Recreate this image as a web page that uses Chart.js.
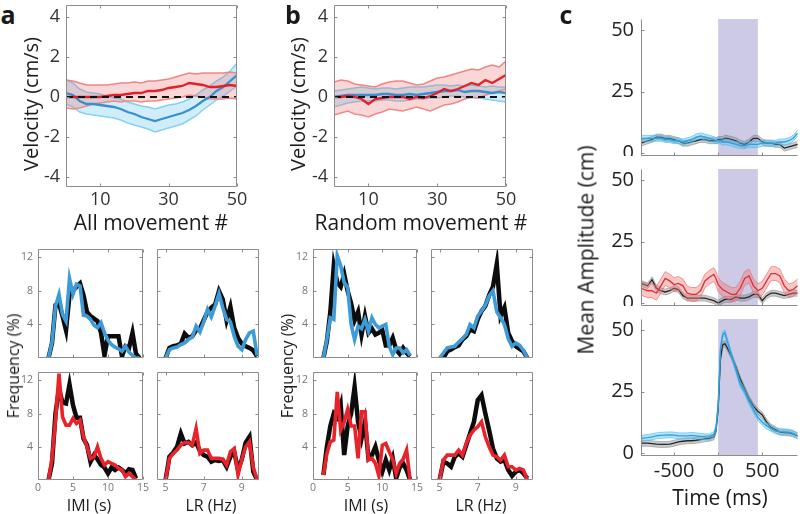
<!DOCTYPE html>
<html><head><meta charset="utf-8">
<script src="https://cdn.jsdelivr.net/npm/chart.js@4/dist/chart.umd.min.js"></script>
<style>
body{margin:0;background:#fff;width:800px;height:514px;position:relative;overflow:hidden;font-family:"Open Sans",sans-serif;}
canvas{position:absolute;}
.t{position:absolute;white-space:nowrap;color:#1a1a1a;line-height:1;}
</style></head><body>
<script>
// ---------------- DATA ----------------
// Panel a/b top: velocity vs movement #
const velX = [0,2,4,6,8,10,12,14,16,18,20,22,24,26,28,30,32,34,36,38,40,42,44,46,48,50];
const velTicksX = [10,30,50];
const velTicksY = [-4,-2,0,2,4];
const aRedMean = [0,0,0,0,0,0,0.05,0.1,0.1,0.15,0.2,0.2,0.3,0.3,0.35,0.45,0.5,0.55,0.7,0.65,0.6,0.5,0.5,0.55,0.6,0.55];
const aRedUp   = [0.85,0.8,0.7,0.6,0.6,0.6,0.6,0.65,0.7,0.7,0.75,0.7,0.8,0.8,0.85,0.9,1.0,1.1,1.2,1.15,1.2,1.2,1.2,1.2,1.25,1.2];
const aRedLo   = [-0.55,-0.6,-0.55,-0.45,-0.35,-0.3,-0.25,-0.2,-0.25,-0.2,-0.2,-0.25,-0.2,-0.2,-0.15,-0.1,-0.05,0,0.1,0.05,0,-0.1,-0.1,-0.1,-0.05,-0.1];
const aBlueMean= [0.2,0.1,-0.2,-0.35,-0.35,-0.4,-0.45,-0.5,-0.6,-0.75,-0.85,-1.0,-1.1,-1.2,-1.1,-1.0,-0.9,-0.8,-0.65,-0.45,-0.2,0,0.3,0.5,0.8,1.1];
const aBlueUp  = [0.85,0.7,0.4,0.25,0.2,0.15,0.05,-0.05,-0.1,-0.25,-0.35,-0.45,-0.5,-0.6,-0.5,-0.4,-0.35,-0.25,-0.1,0.1,0.35,0.55,0.8,1.0,1.3,1.7];
const aBlueLo  = [-0.35,-0.5,-0.75,-0.85,-0.9,-0.95,-1.0,-1.05,-1.15,-1.3,-1.4,-1.5,-1.6,-1.75,-1.65,-1.55,-1.45,-1.35,-1.15,-0.95,-0.65,-0.4,-0.15,0.05,0.3,0.55];
const bRedMean = [0,0,0.05,0,-0.1,-0.35,-0.1,-0.05,0,0,0,-0.1,0,-0.05,0.05,0.2,0.4,0.3,0.4,0.55,0.7,0.6,0.85,0.7,0.9,1.1];
const bRedUp   = [0.75,0.85,0.8,0.65,0.6,0.55,0.5,0.65,0.75,0.8,0.8,0.7,0.6,0.65,0.8,0.95,1.0,1.1,1.2,1.3,1.4,1.35,1.5,1.6,1.5,1.8];
const bRedLo   = [-0.9,-0.8,-0.7,-0.85,-0.9,-1.0,-0.85,-0.75,-0.6,-0.65,-0.7,-0.6,-0.5,-0.6,-0.7,-0.55,-0.4,-0.35,-0.25,-0.1,0,-0.05,0.1,0.2,0.3,0.4];
const bBlueMean= [0,0.05,0.1,0.1,0.1,0.1,0.1,0.15,0.15,0.1,0.1,0.15,0.1,0.15,0.2,0.25,0.3,0.3,0.35,0.25,0.3,0.3,0.25,0.2,0.25,0.2];
const bBlueUp  = [0.3,0.35,0.4,0.45,0.5,0.45,0.4,0.45,0.45,0.4,0.45,0.5,0.5,0.5,0.55,0.6,0.6,0.55,0.6,0.55,0.6,0.55,0.5,0.55,0.5,0.5];
const bBlueLo  = [-0.5,-0.4,-0.3,-0.25,-0.2,-0.2,-0.2,-0.15,-0.15,-0.2,-0.2,-0.15,-0.1,-0.1,-0.05,-0.05,0,0.05,0.05,0,-0.05,-0.05,-0.1,-0.15,-0.2,-0.25];

// Histograms (frequency %)
const imiX = [1.5,2,2.5,3,3.5,4,4.5,5,5.5,6,6.5,7,7.5,8,8.5,9,9.5,10,10.5,11,11.5,12,12.5,13,13.5,14,14.5];
const lrX  = [5,5.2,5.4,5.6,5.8,6,6.2,6.4,6.6,6.8,7,7.2,7.4,7.6,7.8,8,8.2,8.4,8.6,8.8,9,9.2,9.4,9.6,9.8];
const imiTicks = [0,5,10,15];
const lrTicks = [5,7,9];
const freqTicks = [4,8,12];
const aImiBlack1 = [0,1.8,6.3,6.5,5,3.3,7.5,8,8.5,8.9,7.5,5.5,5,4.7,4.4,3,0.3,2.6,2.6,2.6,2.6,0.2,1.4,1.2,3,0.5,0];
const aImiBlue1  = [0,1.9,6.2,7.6,5.2,4.4,9.5,7.6,8.8,8.6,5.1,5,4.6,3.9,3.6,4.2,3,2.1,1.6,1.3,1.1,0.8,1.4,0.7,0.3,0,0];
const aLrBlack1  = [0,1.2,1.4,1.5,1.7,2.9,2.4,2.6,3.3,3.5,4.5,5.5,6,6.4,8,7,4.5,6.1,3.6,2.4,1.7,1.4,1.2,0.9,0.2];
const aLrBlue1   = [0,1,1.2,1.3,1.6,1.8,2.2,2.5,3.8,3.1,4.3,5.8,4.9,6.2,7.7,6,4.6,4.3,2.6,1.4,1,2.2,3,3.2,0.3];
const aImiBlack2 = [0,2,8,11,9.3,9.2,11.5,9,7.5,7.5,5,4.2,2.2,3,2.5,1.8,1.5,0.8,1.5,1.2,1.5,1.2,0.8,1.3,1.2,0.2,null];
const aImiRed2   = [0,2.6,7.2,12.8,7.6,6.6,6.6,7.4,6.8,7.2,5.2,4,2.6,2.8,4,2.6,1.8,2.2,2,1.8,1.4,1.2,0.4,0.8,0.4,0,null];
const aLrBlack2  = [0,2.8,3.3,4,5.6,4.4,4.6,4.2,4.5,3.5,3,2.8,2.2,2.4,2.3,2.4,1.6,2.8,3.4,1.2,2.5,4.5,5.2,1,0];
const aLrRed2    = [0,2.6,3.2,3.6,4.2,4.5,4.5,4.2,6.2,3.2,3.6,3.6,2.6,2.6,2.6,2.5,1.8,3.4,3.8,0.6,2.5,4,4.6,1.5,0];
const bImiBlack1 = [0,2,5.5,11,9,8.5,10,8,6.5,4.5,5.5,2.8,5,3,3.5,2.8,3,3.3,1.5,1.5,2.4,1,0.5,1.2,0.6,0.2,null];
const bImiBlue1  = [0,2.2,4.8,4.6,12.2,11,9,8.4,4,2.2,3.8,3.5,4.6,3.2,4.8,4,3.6,3.8,4,1.4,0.4,1.2,1.2,0.6,1,0.3,null];
const bLrBlack1  = [null,0,0.8,1,1.3,1.5,2.2,2.6,3.4,3.2,4.6,5.6,6.2,7.5,8.5,11.2,5,6,3,2,1.4,1.1,0.8,0,null];
const bLrBlue1   = [0,0.6,1.2,1.3,1.4,1.9,2.3,2.8,4,3.6,5,5.6,6.3,7.4,8,5.5,4.8,4,2.3,1.4,1.8,1.5,0.9,0,null];
const bImiBlack2 = [0.6,4,6.5,8,7.5,9,3,6.5,8,11.2,7,5,7,2.6,3,4,2.4,1,2.4,1.2,2.6,0.2,1.5,2,1.2,0,null];
const bImiRed2   = [0.6,3.2,4.6,4.8,10.6,6,7,8.5,6.5,6.5,2.6,8.2,8.2,2.4,2.6,2,0.5,4.2,4.4,3.4,2.5,0.8,2,2.5,3.6,0,null];
const bLrBlack2  = [0,2.2,2,1.6,2.8,3.2,2.8,4.2,5.6,7,9.6,10.2,8,6,3.8,2.6,2.2,2.4,1.2,0.5,1,1.2,0.8,0.2,null];
const bLrRed2    = [0,2.4,3,3,3,3.6,3,4.4,5.4,6,6.4,7,5.2,4,3,2.8,2.4,3,1.6,1.6,1.2,1.4,1.2,0,null];

// Panel c: mean amplitude vs time (ms)
const tX = [-875,-800,-750,-700,-650,-600,-550,-500,-450,-400,-350,-300,-250,-200,-150,-100,-50,-25,0,25,50,75,100,150,200,250,300,350,400,450,500,550,600,650,700,750,800,850,900];
const tTicks = [-500,0,500];
const ampTicks = [0,25,50];
const stimWindow = [0,450];
const c1Black = [4,5,5.5,6.5,6.5,6,6,5.5,5,4,4,4.5,5,5.5,5.5,5,5,5,5.5,5.5,5.5,6,6,5.5,5,4,3.5,4.5,6,6,4.5,4,4,3.5,3.5,2,2.5,3,3.5];
const c1Blue  = [6,6,6,6,6,5.5,5.5,5,5,4.5,5,5.5,6.5,7,6.5,6,5.5,5,5,5,4.5,4.5,4.5,4,3.5,3,3,3.5,3.5,3.5,4,4,4,4,4.5,4.5,5,6,8];
const c2Black = [8,7,9.5,6,5,4.5,5,6,5.5,3,2,2,2,2,2,1.5,1,0.5,0,0.5,1,1.5,1.5,1.5,2.5,2,2,2.5,3.5,3.5,1,3,4,4,3.5,3,3.5,4,4];
const c2Red   = [6,5,5,4,7,10,9,7.5,8,7,4,3.5,3.5,5,9,10.5,11.6,10,7.5,6.5,5.5,5,4.5,3.5,3.5,6,10,11,7,5,6,9,12,12,11,7,5,5.5,7];
const c3Black = [4,4,3.8,3.6,3.5,3.5,3.6,4,4.5,4.8,5,5,5.2,5.5,5.8,6,6.5,9,18,38,44,44.5,43,39.5,35,30,26,22,19,17,15.5,12.5,10.5,9.5,8.5,8.3,8.2,7.8,7];
const c3Blue  = [6,6.3,6.6,7,7.2,7.3,7.4,7.3,7,7,7,7.2,7,6.8,6.6,6.5,7.5,10,20,42,48,49,46,40,34,28,25,21,17.5,14.5,12.5,11,10,9,8.7,8.6,8.5,8,7];
const semBlack = 1.2, semBlue = 1.2, semRed = 2.8;

// ---------------- HELPERS ----------------
Chart.defaults.font.family = '"Open Sans", sans-serif';
const pts = (xs, ys) => xs.map((x, i) => ({x: x, y: ys[i]}));
const band = (ys, s) => ys.map(v => v + s);

const frame = {
  id: 'frame',
  afterDatasetsDraw(chart, args, o) {
    const {ctx, chartArea: a, scales: {x, y}} = chart;
    ctx.save();
    ctx.strokeStyle = o.color; ctx.lineWidth = 1;
    const L = Math.round(a.left) + 0.5, R = Math.round(a.right) - 0.5, T = Math.round(a.top) + 0.5, B = Math.round(a.bottom) - 0.5;
    const box = o.sides === 'box', tl = o.tick;
    ctx.beginPath();
    if (box) ctx.rect(L, T, R - L, B - T); else { ctx.moveTo(L, T); ctx.lineTo(L, B); ctx.lineTo(R, B); }
    x.ticks.forEach(t => { const p = Math.round(x.getPixelForValue(t.value)) + 0.5; ctx.moveTo(p, B); ctx.lineTo(p, B - tl); if (box) { ctx.moveTo(p, T); ctx.lineTo(p, T + tl); } });
    y.ticks.forEach(t => { const p = Math.round(y.getPixelForValue(t.value)) + 0.5; ctx.moveTo(L, p); ctx.lineTo(L + tl, p); if (box) { ctx.moveTo(R, p); ctx.lineTo(R - tl, p); } });
    ctx.stroke(); ctx.restore();
  }
};
const shade = {
  id: 'shade',
  beforeDatasetsDraw(chart, args, o) {
    const {ctx, chartArea: a, scales: {x}} = chart;
    const x0 = x.getPixelForValue(o.from), x1 = x.getPixelForValue(o.to);
    ctx.save(); ctx.fillStyle = o.color; ctx.fillRect(x0, a.top, x1 - x0, a.bottom - a.top); ctx.restore();
  }
};

function mk(rect, pad, datasets, o) {
  const c = document.createElement('canvas');
  const W = rect[2] - rect[0] + pad.l + pad.r, H = rect[3] - rect[1] + pad.t + pad.b;
  c.width = W; c.height = H;
  c.style.left = (rect[0] - pad.l) + 'px'; c.style.top = (rect[1] - pad.t) + 'px';
  c.style.width = W + 'px'; c.style.height = H + 'px';
  document.body.appendChild(c);
  const n = datasets.length;
  datasets.forEach((d, i) => { d.order = n - i; d.pointRadius = 0; d.tension = 0; if (d.clip === undefined) d.clip = o.clip; });
  new Chart(c, {
    type: 'line',
    data: {datasets: datasets},
    options: {
      responsive: false, animation: false, devicePixelRatio: 1,
      layout: {padding: {left: 0, top: pad.t, right: pad.r, bottom: 0}},
      plugins: {
        legend: {display: false}, tooltip: {enabled: false},
        frame: {sides: o.sides || 'box', color: o.frameColor || '#8c8c8c', tick: o.tickLen === undefined ? 3 : o.tickLen},
        shade: o.shade || false
      },
      scales: {
        x: {
          type: 'linear', min: o.xr[0], max: o.xr[1],
          grid: {display: false, drawTicks: false}, border: {display: false},
          ticks: {display: !!o.xLab, font: {size: o.fs}, color: o.tc, padding: o.xpad, maxRotation: 0, autoSkip: false, callback: v => String(v)},
          afterBuildTicks: s => { s.ticks = o.xt.map(v => ({value: v})); },
          afterFit: s => { s.height = pad.b; s.paddingLeft = 0; s.paddingRight = 0; }
        },
        y: {
          type: 'linear', min: o.yr[0], max: o.yr[1],
          grid: {display: false, drawTicks: false}, border: {display: false},
          ticks: {display: !!o.yLab, font: {size: o.fs}, color: o.tc, padding: o.ypad, autoSkip: false, callback: v => String(v)},
          afterBuildTicks: s => { s.ticks = o.yt.map(v => ({value: v})); },
          afterFit: s => { s.width = pad.l; s.paddingTop = 0; s.paddingBottom = 0; }
        }
      }
    },
    plugins: [shade, frame]
  });
}
function label(txt, cx, cy, size, rot, bold) {
  const d = document.createElement('div'); d.className = 't'; d.textContent = txt;
  d.style.left = cx + 'px'; d.style.top = cy + 'px'; d.style.fontSize = size + 'px';
  if (bold) d.style.fontWeight = '700';
  d.style.transform = 'translate(-50%,-50%)' + (rot ? ' rotate(-90deg)' : '');
  document.body.appendChild(d);
}

// ---------------- TOP VELOCITY PANELS ----------------
const RED = '#e3202a', RED_EDGE = '#f08a8a', RED_FILL = 'rgba(238,110,110,0.28)';
const BLUE = '#3a8fcf', BLUE_EDGE = '#86d2f2', BLUE_FILL = 'rgba(110,200,240,0.32)';
function velSets(rm, ru, rl, bm, bu, bl) {
  return [
    {data: pts(velX, bu), borderColor: BLUE_EDGE, borderWidth: 1.5, fill: false},
    {data: pts(velX, bl), borderColor: BLUE_EDGE, borderWidth: 1.5, fill: '-1', backgroundColor: BLUE_FILL},
    {data: pts(velX, ru), borderColor: RED_EDGE, borderWidth: 1.5, fill: false},
    {data: pts(velX, rl), borderColor: RED_EDGE, borderWidth: 1.5, fill: '-1', backgroundColor: RED_FILL},
    {data: pts(velX, bm), borderColor: BLUE, borderWidth: 2.3, fill: false},
    {data: pts(velX, rm), borderColor: RED, borderWidth: 2.3, fill: false},
    {data: pts([0, 50], [0, 0]), borderColor: '#111', borderWidth: 2, borderDash: [7, 5], fill: false}
  ];
}
const velOpt = {xr: [0, 50], yr: [-4.5, 4.6], xt: velTicksX, yt: velTicksY, xLab: true, yLab: true, fs: 18, tc: '#333', xpad: 2, ypad: 6, tickLen: 3};
mk([66, 5, 237, 187], {l: 40, t: 3, r: 16, b: 28}, velSets(aRedMean, aRedUp, aRedLo, aBlueMean, aBlueUp, aBlueLo), velOpt);
mk([334, 5, 506, 187], {l: 40, t: 3, r: 16, b: 28}, velSets(bRedMean, bRedUp, bRedLo, bBlueMean, bBlueUp, bBlueLo), velOpt);

// ---------------- HISTOGRAMS ----------------
const H_BLUE = '#3d9bd8', H_RED = '#e8232b', H_BLACK = '#0c0c0c';
function hist(xs, black, col, colC) {
  return [
    {data: pts(xs, black), borderColor: H_BLACK, borderWidth: 4.5, fill: false, borderJoinStyle: 'miter'},
    {data: pts(xs, col), borderColor: colC, borderWidth: 3.6, fill: false}
  ];
}
const hBase = {yr: [0, 13], yt: freqTicks, fs: 10.5, tc: '#777', xpad: 2, ypad: 5, tickLen: 3, clip: 0};
const imiO = (xl, yl) => Object.assign({}, hBase, {xr: [0, 15], xt: imiTicks, xLab: xl, yLab: yl});
const lrO = (xl) => Object.assign({}, hBase, {xr: [4.55, 9.9], xt: lrTicks, xLab: xl, yLab: false});
mk([38, 249, 143, 358], {l: 30, t: 2, r: 4, b: 2}, hist(imiX, aImiBlack1, aImiBlue1, H_BLUE), imiO(false, true));
mk([157, 249, 259, 358], {l: 2, t: 2, r: 4, b: 2}, hist(lrX, aLrBlack1, aLrBlue1, H_BLUE), lrO(false));
mk([38, 372, 143, 480], {l: 30, t: 2, r: 6, b: 16}, hist(imiX, aImiBlack2, aImiRed2, H_RED), imiO(true, true));
mk([157, 372, 259, 480], {l: 4, t: 2, r: 6, b: 16}, hist(lrX, aLrBlack2, aLrRed2, H_RED), lrO(true));
mk([313, 249, 417, 358], {l: 30, t: 2, r: 4, b: 2}, hist(imiX, bImiBlack1, bImiBlue1, H_BLUE), imiO(false, true));
mk([431, 249, 533, 358], {l: 2, t: 2, r: 4, b: 2}, hist(lrX, bLrBlack1, bLrBlue1, H_BLUE), lrO(false));
mk([313, 372, 417, 480], {l: 30, t: 2, r: 6, b: 16}, hist(imiX, bImiBlack2, bImiRed2, H_RED), imiO(true, true));
mk([431, 372, 533, 480], {l: 4, t: 2, r: 6, b: 16}, hist(lrX, bLrBlack2, bLrRed2, H_RED), lrO(true));

// ---------------- PANEL C ----------------
function ampSets(black, col, sem2, colLine, colEdge, colFill) {
  return [
    {data: pts(tX, band(black, semBlack)), borderColor: 'rgba(110,110,110,0.55)', borderWidth: 0.8, fill: false},
    {data: pts(tX, band(black, -semBlack)), borderColor: 'rgba(110,110,110,0.55)', borderWidth: 0.8, fill: '-1', backgroundColor: 'rgba(130,130,130,0.42)'},
    {data: pts(tX, black), borderColor: '#262626', borderWidth: 1.3, fill: false},
    {data: pts(tX, band(col, sem2)), borderColor: colEdge, borderWidth: 0.8, fill: false},
    {data: pts(tX, band(col, -sem2)), borderColor: colEdge, borderWidth: 0.8, fill: '-1', backgroundColor: colFill},
    {data: pts(tX, col), borderColor: colLine, borderWidth: 1.3, fill: false}
  ];
}
const cBase = {xr: [-875, 905], yr: [-1.2, 54.5], xt: tTicks, yt: ampTicks, fs: 20, tc: '#222', xpad: 3, ypad: 7, sides: 'lb', tickLen: 3, frameColor: '#8c8c8c',
  shade: {from: stimWindow[0], to: stimWindow[1], color: 'rgba(190,187,222,0.78)'}};
const CB_LINE = '#2b9fe0', CB_EDGE = 'rgba(70,185,240,0.8)', CB_FILL = 'rgba(80,190,240,0.42)';
const CR_LINE = '#d9303a', CR_EDGE = 'rgba(235,100,100,0.8)', CR_FILL = 'rgba(240,120,120,0.42)';
mk([641, 19, 798, 156], {l: 50, t: 2, r: 2, b: 0}, ampSets(c1Black, c1Blue, semBlue, CB_LINE, CB_EDGE, CB_FILL), Object.assign({}, cBase, {xLab: false, yLab: true}));
mk([641, 169, 798, 306], {l: 50, t: 2, r: 2, b: 0}, ampSets(c2Black, c2Red, semRed, CR_LINE, CR_EDGE, CR_FILL), Object.assign({}, cBase, {xLab: false, yLab: true}));
mk([641, 319, 798, 456], {l: 50, t: 2, r: 2, b: 28}, ampSets(c3Black, c3Blue, semBlue, CB_LINE, CB_EDGE, CB_FILL), Object.assign({}, cBase, {xLab: true, yLab: true}));

// ---------------- TEXT ----------------
label('a', 8, 14, 25, false, true);
label('b', 293, 14, 25, false, true);
label('c', 566, 14, 25, false, true);
label('Velocity (cm/s)', 31, 104, 20, true);
label('Velocity (cm/s)', 298, 104, 20, true);
label('All movement #', 151, 222, 21);
label('Random movement #', 421, 222, 21);
label('Frequency (%)', 13, 366, 16, true);
label('Frequency (%)', 287, 366, 16, true);
label('IMI (s)', 89, 505, 16);
label('LR (Hz)', 211, 505, 16);
label('IMI (s)', 366, 505, 16);
label('LR (Hz)', 481, 505, 16);
label('Mean Amplitude (cm)', 586, 250, 21, true);
label('Time (ms)', 720, 497, 21);
</script>
</body></html>
